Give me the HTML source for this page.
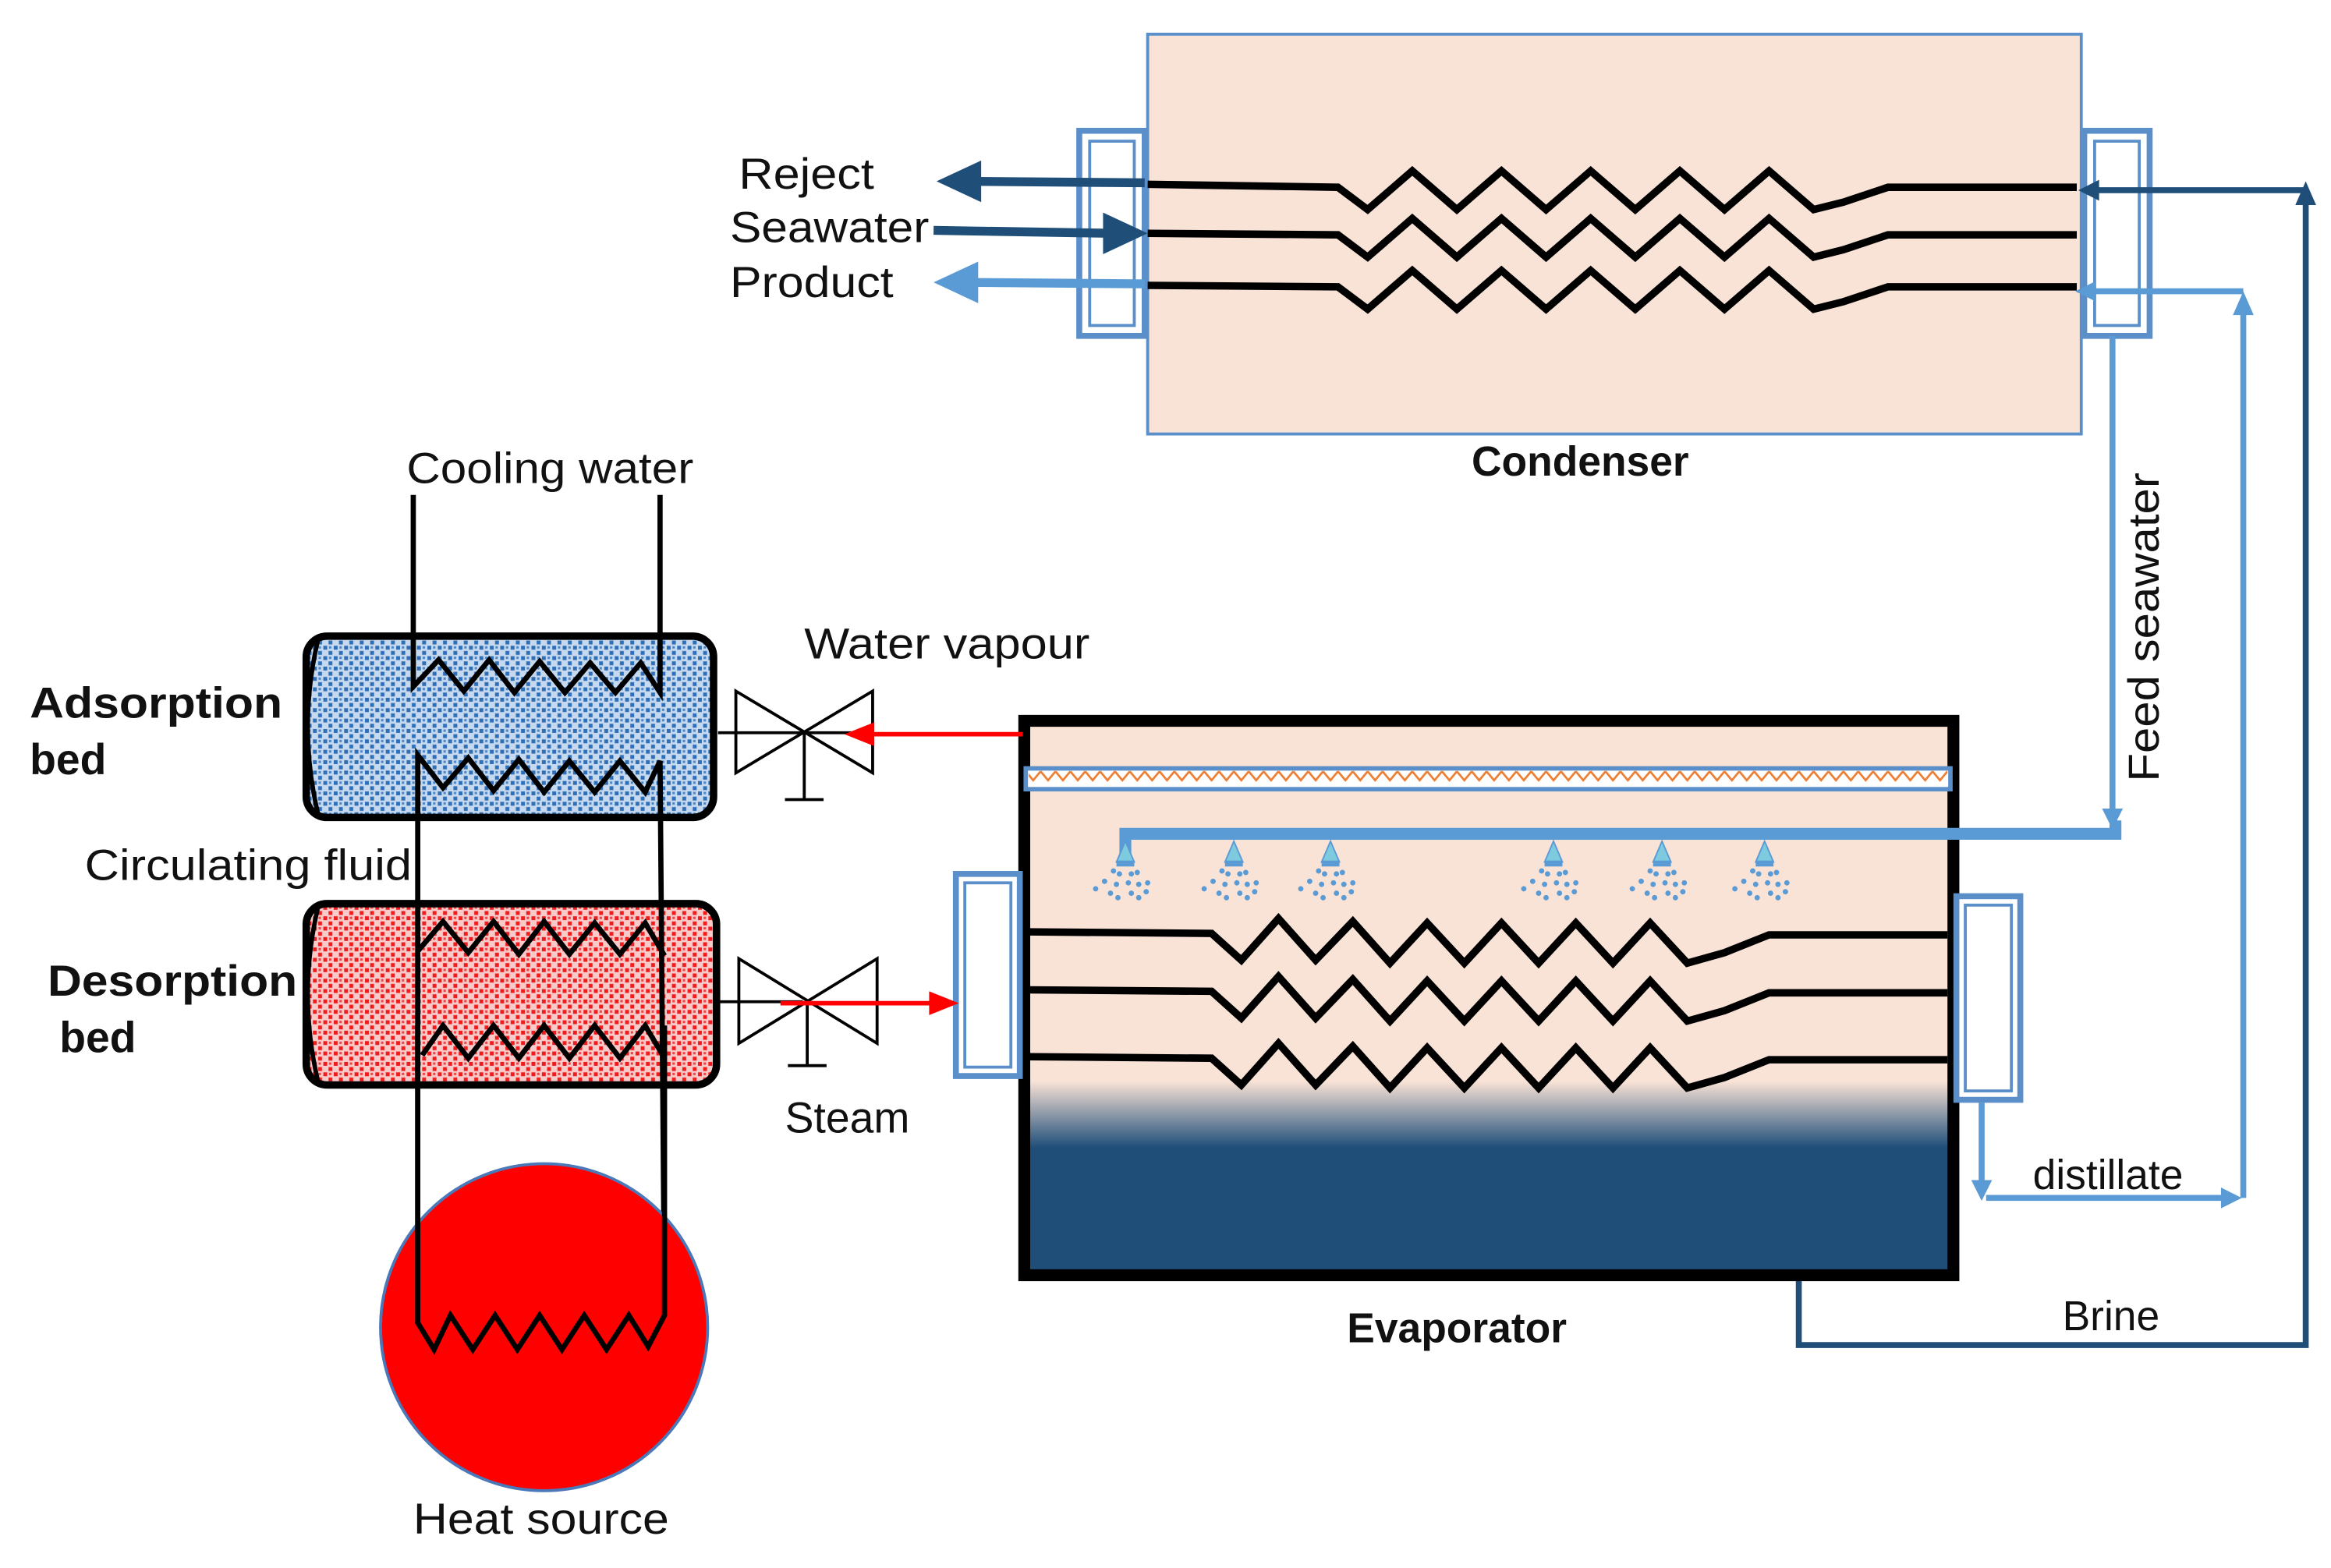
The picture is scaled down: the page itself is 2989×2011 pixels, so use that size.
<!DOCTYPE html>
<html><head><meta charset="utf-8"><style>
html,body{margin:0;padding:0;background:#fff}
svg{display:block}
text{font-family:"Liberation Sans",sans-serif;fill:#111}
</style></head><body>
<svg width="2989" height="2011" viewBox="0 0 1568 1055" preserveAspectRatio="none" xmlns="http://www.w3.org/2000/svg">
<defs>
<pattern id="bd" width="7" height="7" patternUnits="userSpaceOnUse"><rect width="7" height="7" fill="#c6d9ee"/><rect x="0.5" y="0.5" width="2.6" height="2.6" fill="#2e6fb8"/><rect x="4" y="4" width="2.6" height="2.6" fill="#2e6fb8"/><rect x="4.3" y="0.8" width="1.6" height="1.6" fill="#4a86c8"/></pattern>
<pattern id="rd" width="7" height="7" patternUnits="userSpaceOnUse"><rect width="7" height="7" fill="#f8caca"/><rect x="0.5" y="0.5" width="2.6" height="2.6" fill="#ee1c1c"/><rect x="4" y="4" width="2.6" height="2.6" fill="#ee1c1c"/><rect x="4.3" y="0.8" width="1.6" height="1.6" fill="#f04040"/></pattern>
<linearGradient id="ev" x1="0" y1="0" x2="0" y2="1">
<stop offset="0" stop-color="#f9e3d6"/><stop offset="0.65" stop-color="#f9e3d6"/><stop offset="0.77" stop-color="#1f4e79"/><stop offset="1" stop-color="#1f4e79"/></linearGradient>
<pattern id="dm" width="10" height="12" patternUnits="userSpaceOnUse"><polyline points="0,3 5,9 10,3" fill="none" stroke="#ed7d31" stroke-width="1.4"/></pattern>
<g id="noz"><polygon points="0,0 -6,14 6,14" fill="#7ecbe0" stroke="#5b9bd5"/><rect x="-6" y="13" width="12" height="4" fill="#5b9bd5"/>
<g fill="#5b9bd5"><circle cx="-8" cy="20" r="1.8"/><circle cx="-4" cy="22" r="1.8"/><circle cx="4" cy="22" r="1.8"/><circle cx="8" cy="21" r="1.8"/><circle cx="-14" cy="27" r="1.8"/><circle cx="-6" cy="29" r="1.8"/><circle cx="2" cy="28" r="1.8"/><circle cx="9" cy="29" r="1.8"/><circle cx="15" cy="28" r="1.8"/><circle cx="-20" cy="32" r="1.8"/><circle cx="-10" cy="35" r="1.8"/><circle cx="4" cy="35" r="1.8"/><circle cx="14" cy="34" r="1.8"/><circle cx="-5" cy="38" r="1.8"/><circle cx="9" cy="38" r="1.8"/></g></g>
</defs>

<rect x="772" y="23" width="628" height="269" fill="#f9e3d6" stroke="#5b8fc9" stroke-width="2"/>
<rect x="726" y="88" width="44" height="138" fill="#fff" stroke="#5b8fc9" stroke-width="4"/>
<rect x="733" y="95" width="30" height="124" fill="none" stroke="#5b8fc9" stroke-width="2"/>
<rect x="1402" y="88" width="44" height="138" fill="#fff" stroke="#5b8fc9" stroke-width="4"/>
<rect x="1409" y="95" width="30" height="124" fill="none" stroke="#5b8fc9" stroke-width="2"/>
<g fill="none" stroke="#000" stroke-width="5">
<polyline points="772,124 900,126 920,141 950,115 980,141 1010,115 1040,141 1070,115 1100,141 1130,115 1160,141 1190,115 1220,141 1240,136 1270,126 1397,126"/>
<polyline points="772,157 900,158 920,173 950,147 980,173 1010,147 1040,173 1070,147 1100,173 1130,147 1160,173 1190,147 1220,173 1240,168 1270,158 1397,158"/>
<polyline points="772,192 900,193 920,208 950,182 980,208 1010,182 1040,208 1070,182 1100,208 1130,182 1160,208 1190,182 1220,208 1240,203 1270,193 1397,193"/>
</g>
<line x1="770" y1="123" x2="650" y2="122" stroke="#1f4e79" stroke-width="6"/>
<polygon points="630,122 660,108 660,136" fill="#1f4e79"/>
<line x1="628" y1="155" x2="750" y2="157" stroke="#1f4e79" stroke-width="6"/>
<polygon points="772,157 742,143 742,171" fill="#1f4e79"/>
<line x1="770" y1="191" x2="648" y2="190" stroke="#5b9bd5" stroke-width="6"/>
<polygon points="628,190 658,176 658,204" fill="#5b9bd5"/>
<text x="497" y="127" font-size="29" textLength="91" lengthAdjust="spacingAndGlyphs">Reject</text>
<text x="491" y="163" font-size="29" textLength="134" lengthAdjust="spacingAndGlyphs">Seawater</text>
<text x="491" y="200" font-size="29" textLength="110" lengthAdjust="spacingAndGlyphs">Product</text>
<text x="1063" y="320" font-size="28" font-weight="bold" text-anchor="middle">Condenser</text>

<polyline points="1210,860 1210,905 1551,905 1551,135" fill="none" stroke="#1f4e79" stroke-width="4"/>
<polygon points="1551,122 1544,138 1558,138" fill="#1f4e79"/>
<line x1="1551" y1="128" x2="1410" y2="128" stroke="#1f4e79" stroke-width="4"/>
<polygon points="1398,128 1412,121 1412,135" fill="#1f4e79"/>
<polyline points="1333,742 1333,800" fill="none" stroke="#5b9bd5" stroke-width="4"/>
<polygon points="1333,808 1326,794 1340,794" fill="#5b9bd5"/>
<polyline points="1336,806 1498,806" fill="none" stroke="#5b9bd5" stroke-width="4"/>
<polygon points="1508,806 1494,799 1494,813" fill="#5b9bd5"/>
<line x1="1509" y1="806" x2="1509" y2="208" stroke="#5b9bd5" stroke-width="4"/>
<polygon points="1509,196 1502,212 1516,212" fill="#5b9bd5"/>
<line x1="1509" y1="196" x2="1408" y2="196" stroke="#5b9bd5" stroke-width="4"/>
<polygon points="1396,196 1410,189 1410,203" fill="#5b9bd5"/>
<text x="1418" y="800" font-size="28" text-anchor="middle">distillate</text>
<text x="1420" y="895" font-size="28" text-anchor="middle">Brine</text>
<line x1="1421" y1="226" x2="1421" y2="548" stroke="#5b9bd5" stroke-width="4"/>
<polygon points="1421,558 1414,544 1428,544" fill="#5b9bd5"/>
<text transform="translate(1452,422) rotate(-90)" font-size="29" text-anchor="middle" textLength="208" lengthAdjust="spacingAndGlyphs">Feed seawater</text>

<rect x="689" y="485" width="625" height="373" fill="url(#ev)" stroke="#000" stroke-width="8"/>
<rect x="690" y="517" width="622" height="14" fill="#fff" stroke="#5b8fc9" stroke-width="3"/>
<rect x="692" y="518" width="618" height="12" fill="url(#dm)"/>
<polyline points="757,575 757,561 1423,561 1423,552" fill="none" stroke="#5b9bd5" stroke-width="8"/>
<use href="#noz" x="757" y="566"/><use href="#noz" x="830" y="566"/><use href="#noz" x="895" y="566"/>
<use href="#noz" x="1045" y="566"/><use href="#noz" x="1118" y="566"/><use href="#noz" x="1187" y="566"/>
<g fill="none" stroke="#000" stroke-width="5">
<polyline points="692,627 815,628 835,646 860,618 885,646 910,620 935,648 960,621 985,648 1010,621 1035,648 1060,621 1085,648 1110,621 1135,648 1160,641 1190,629 1310,629"/>
<polyline points="692,666 815,667 835,685 860,657 885,685 910,659 935,687 960,660 985,687 1010,660 1035,687 1060,660 1085,687 1110,660 1135,687 1160,680 1190,668 1310,668"/>
<polyline points="692,711 815,712 835,730 860,702 885,730 910,704 935,732 960,705 985,732 1010,705 1035,732 1060,705 1085,732 1110,705 1135,732 1160,725 1190,713 1310,713"/>
</g>
<rect x="643" y="588" width="43" height="136" fill="#fff" stroke="#5b8fc9" stroke-width="4"/>
<rect x="649" y="594" width="31" height="124" fill="none" stroke="#5b8fc9" stroke-width="2"/>
<rect x="1316" y="603" width="43" height="137" fill="#fff" stroke="#5b8fc9" stroke-width="4"/>
<rect x="1322" y="609" width="31" height="125" fill="none" stroke="#5b8fc9" stroke-width="2"/>
<text x="980" y="903" font-size="28" font-weight="bold" text-anchor="middle">Evaporator</text>

<rect x="206" y="428" width="274" height="122" rx="14" fill="url(#bd)" stroke="#000" stroke-width="5"/>
<path d="M214,430 Q200,489 214,548" fill="none" stroke="#000" stroke-width="3"/>
<rect x="206" y="608" width="276" height="122" rx="14" fill="url(#rd)" stroke="#000" stroke-width="5"/>
<path d="M214,610 Q200,669 214,728" fill="none" stroke="#000" stroke-width="3"/>
<g fill="none" stroke="#000" stroke-width="3.5">
<polyline points="278,333 278,462 295,444 312,465 329,444 346,466 363,445 380,466 397,446 414,466 431,446 444,466 444,333"/>
<polyline points="281,880 281,508 298,530 315,510 332,532 349,511 366,533 383,512 400,533 417,512 434,533 444,512 447,880"/>
<polyline points="281,640 298,620 315,641 332,620 349,642 366,620 383,642 400,621 417,642 434,621 447,643"/>
</g>
<circle cx="366" cy="893" r="110" fill="#ff0000" stroke="#4a78b8" stroke-width="2"/>
<g fill="none" stroke="#000" stroke-width="3.5">
<polyline points="281,690 281,890 292,908 303,885 318,908 333,885 348,908 363,885 378,908 393,885 408,908 423,885 436,906 447,885 447,690"/>
<polyline points="284,710 298,690 315,712 332,690 349,712 366,690 383,712 400,690 417,712 434,690 447,712"/>
</g>
<text x="364" y="1032" font-size="29" text-anchor="middle" textLength="172" lengthAdjust="spacingAndGlyphs">Heat source</text>
<text x="370" y="325" font-size="29" text-anchor="middle" textLength="193" lengthAdjust="spacingAndGlyphs">Cooling water</text>
<text x="20" y="483" font-size="29" font-weight="bold" textLength="170" lengthAdjust="spacingAndGlyphs">Adsorption</text>
<text x="20" y="521" font-size="29" font-weight="bold">bed</text>
<text x="57" y="592" font-size="29" textLength="220" lengthAdjust="spacingAndGlyphs">Circulating fluid</text>
<text x="32" y="670" font-size="29" font-weight="bold" textLength="168" lengthAdjust="spacingAndGlyphs">Desorption</text>
<text x="40" y="708" font-size="29" font-weight="bold">bed</text>

<g fill="none" stroke="#000" stroke-width="2">
<polygon points="495,465 587,520 587,465 495,520"/>
<line x1="483" y1="493" x2="578" y2="493"/><line x1="541" y1="493" x2="541" y2="538"/><line x1="528" y1="538" x2="554" y2="538"/>
<polygon points="497,645 590,702 590,645 497,702"/>
<line x1="483" y1="674" x2="540" y2="674"/><line x1="543" y1="674" x2="543" y2="717"/><line x1="530" y1="717" x2="556" y2="717"/>
</g>
<line x1="688" y1="494" x2="585" y2="494" stroke="#ff0000" stroke-width="3"/>
<polygon points="568,494 588,486 588,502" fill="#ff0000"/>
<line x1="525" y1="675" x2="628" y2="675" stroke="#ff0000" stroke-width="3"/>
<polygon points="645,675 625,667 625,683" fill="#ff0000"/>
<text x="637" y="443" font-size="29" text-anchor="middle" textLength="192" lengthAdjust="spacingAndGlyphs">Water vapour</text>
<text x="570" y="762" font-size="29" text-anchor="middle">Steam</text>
</svg>
</body></html>
